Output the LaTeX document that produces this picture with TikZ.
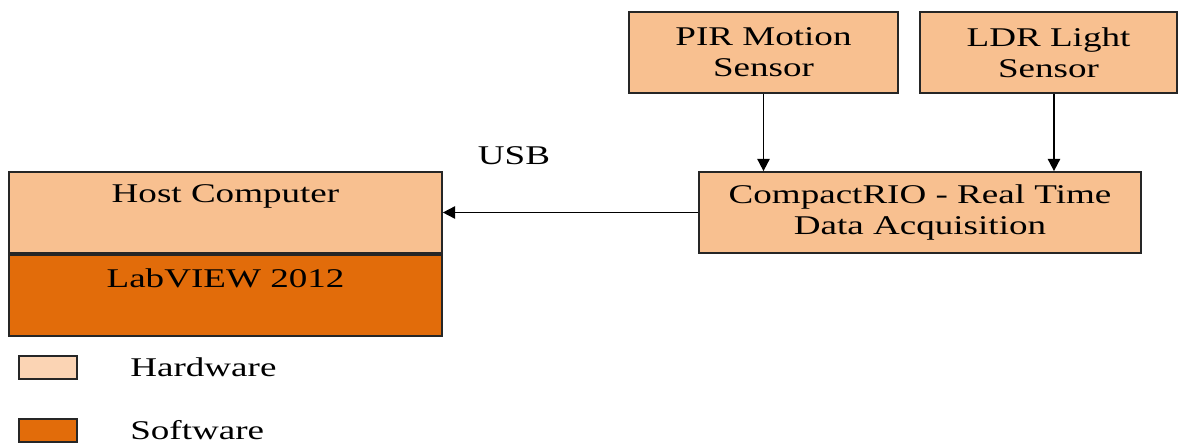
\documentclass[tikz,border=0pt]{standalone}
\usepackage{fontspec}
\setmainfont{Liberation Serif}[FakeStretch=1.37]
\usetikzlibrary{arrows.meta}
\definecolor{hwfill}{RGB}{248,192,144}
\definecolor{swfill}{RGB}{226,108,10}
\definecolor{hwkey}{RGB}{251,212,180}

\begin{document}
\begin{tikzpicture}[x=0.02cm, y=-0.02cm,
  font=\fontsize{15.4}{17.6}\selectfont,
  blk/.style={draw=black!85, line width=1pt, inner sep=0pt, align=center},
  txt/.style={inner sep=0pt, align=center},
  conn/.style={line width=1pt, -{Triangle[length=7pt,width=7pt]}}]
  \useasboundingbox (0,0) rectangle (1178,443);
  % sensors on top
  \node[blk, fill=hwfill, minimum width=5.38cm, minimum height=1.62cm] (pir) at (763.5,52.5) {PIR Motion\\Sensor};
  \node[blk, fill=hwfill, minimum width=5.14cm, minimum height=1.62cm] (ldr) at (1048.5,52.5) {LDR Light\\Sensor};
  % acquisition unit
  \node[blk, fill=hwfill, minimum width=8.84cm, minimum height=1.62cm] (crio) at (920,212.5) {CompactRIO - Real Time\\Data Acquisition};
  % host: hardware part over software part
  \node[blk, fill=hwfill, minimum width=8.66cm, minimum height=1.62cm] (host) at (225.5,212.5) {};
  \node[blk, fill=swfill, minimum width=8.66cm, minimum height=1.62cm, anchor=north] (labview) at (host.south) {};
  \node[txt] (hostlbl) at (225.5,196) {Host Computer};
  \node[txt] (labviewlbl) at (225.5,278) {LabVIEW 2012};
  % links
  \draw[conn] (pir.south) -- (pir.south |- crio.north);
  \draw[conn] ([xshift=0.11cm]ldr.south) -- ([xshift=0.11cm]ldr.south |- crio.north);
  \draw[conn] (crio.west) -- (host.east);
  \node[txt] (usb) at (514,156) {USB};
  % key
  \node[blk, fill=hwkey, minimum width=1.16cm, minimum height=0.46cm] (hwbox) at (48,367.5) {};
  \node[blk, fill=swfill, minimum width=1.16cm, minimum height=0.46cm] (swbox) at (48,430.5) {};
  \node[txt, anchor=west] (hwlbl) at (130,367) {Hardware};
  \node[txt, anchor=west] (swlbl) at (130,430) {Software};
\end{tikzpicture}
\end{document}
